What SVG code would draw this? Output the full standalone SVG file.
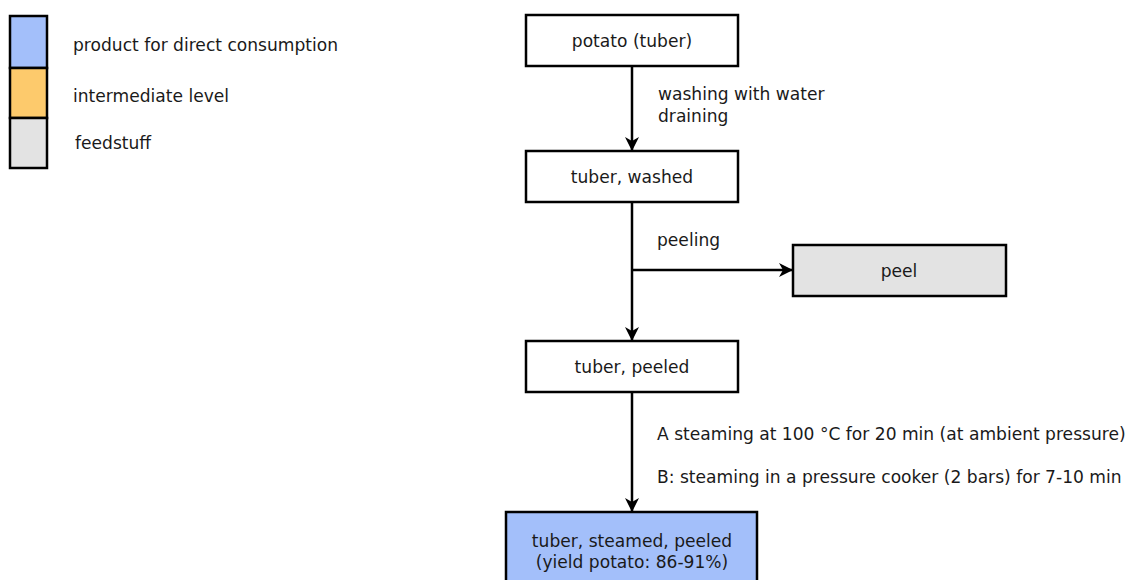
<svg xmlns="http://www.w3.org/2000/svg" width="1128" height="580" viewBox="0 0 1128 580">
  <style>
    text { font-family: "DejaVu Sans", sans-serif; font-size: 17.1px; fill: #1a1a1a; }
    .c { text-anchor: middle; }
    .box { stroke: #000; stroke-width: 2.5; }
    .edge { stroke: #000; stroke-width: 2.5; fill: none; }
  </style>
  <defs>
    <marker id="arr" viewBox="0 0 14 14" refX="13" refY="7" markerWidth="14" markerHeight="14" markerUnits="userSpaceOnUse" orient="auto">
      <path d="M0,0 L14,7 L0,14 L4,7 Z" fill="#000"/>
    </marker>
  </defs>
  <rect width="1128" height="580" fill="#fff"/>

  <!-- legend -->
  <g id="legend">
    <rect class="box" x="10" y="16" width="37" height="52" fill="#a3bffa"/>
    <rect class="box" x="10" y="68" width="37" height="50" fill="#fdca6c"/>
    <rect class="box" x="10" y="118" width="37" height="50" fill="#e3e3e3"/>
    <text x="73" y="51">product for direct consumption</text>
    <text x="73" y="102">intermediate level</text>
    <text x="75" y="149">feedstuff</text>
  </g>

  <!-- connectors -->
  <g id="connectors">
    <line class="edge" x1="632" y1="66" x2="632" y2="150" marker-end="url(#arr)"/>
    <line class="edge" x1="632" y1="202" x2="632" y2="340" marker-end="url(#arr)"/>
    <line class="edge" x1="632" y1="270" x2="792" y2="270" marker-end="url(#arr)"/>
    <line class="edge" x1="632" y1="392" x2="632" y2="511" marker-end="url(#arr)"/>
    <text x="658" y="100">washing with water</text>
    <text x="658" y="122">draining</text>
    <text x="657" y="246">peeling</text>
    <text x="657" y="440">A steaming at 100 °C for 20 min (at ambient pressure)</text>
    <text x="657" y="483">B: steaming in a pressure cooker (2 bars) for 7-10 min</text>
  </g>

  <g id="potato">
    <rect class="box" x="526" y="15" width="212" height="51" fill="#fff"/>
    <text class="c" x="632" y="47">potato (tuber)</text>
  </g>
  <g id="washed">
    <rect class="box" x="526" y="151" width="212" height="51" fill="#fff"/>
    <text class="c" x="632" y="183">tuber, washed</text>
  </g>
  <g id="peel">
    <rect class="box" x="793" y="245" width="213" height="51" fill="#e3e3e3"/>
    <text class="c" x="899" y="277">peel</text>
  </g>
  <g id="peeled">
    <rect class="box" x="526" y="341" width="212" height="51" fill="#fff"/>
    <text class="c" x="632" y="373">tuber, peeled</text>
  </g>
  <g id="steamed">
    <rect class="box" x="506" y="512" width="251" height="80" fill="#a3bffa"/>
    <text class="c" x="632" y="547">tuber, steamed, peeled</text>
    <text class="c" x="632" y="568">(yield potato: 86-91%)</text>
  </g>
</svg>
